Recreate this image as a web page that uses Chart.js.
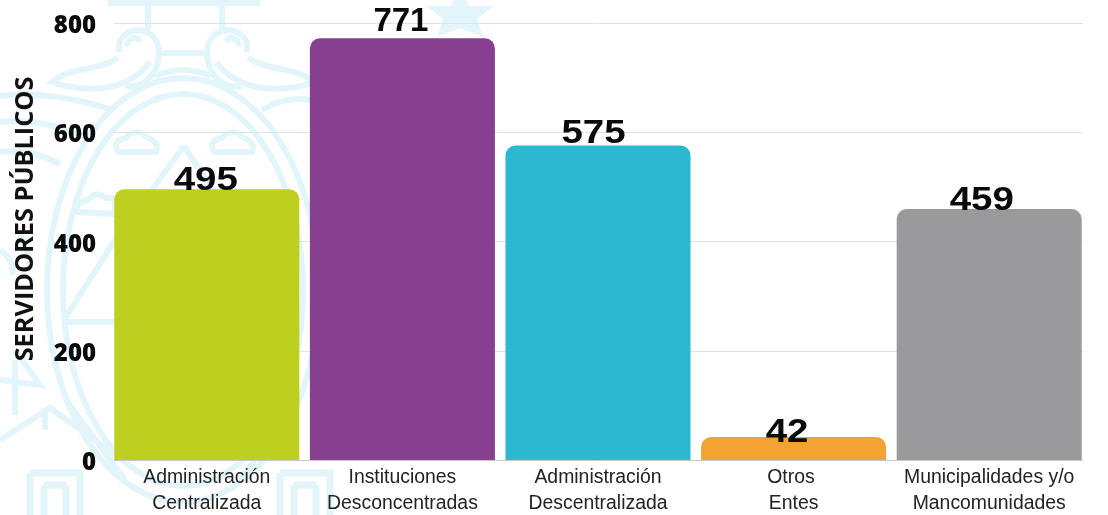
<!DOCTYPE html>
<html><head><meta charset="utf-8">
<style>
html,body{margin:0;padding:0;background:#fff;overflow:hidden}
#wrap{position:relative;width:1108px;height:515px}
#wm,#c{position:absolute;left:0;top:0}
</style>
<script src="https://cdn.jsdelivr.net/npm/chart.js@4"></script>
</head><body>
<div id="wrap">
<svg id="wm" width="1108" height="515" viewBox="0 0 1108 515" fill="none" stroke="#e2f5fa" stroke-width="6">
  <path d="M108 3H260" />
  <path d="M148 4V30M222 4V30" />
  <path d="M120 52C112 30 150 20 158 45C162 65 150 90 125 86M128 46A6 6 0 1 1 140 42"/>
  <path d="M246 52C254 30 216 20 208 45C204 65 216 90 241 86M238 46A6 6 0 1 0 226 42"/>
  <path d="M118 58C95 72 72 66 52 82C80 92 125 95 150 62M248 58C271 72 294 66 314 82C286 92 241 95 216 62"/>
  <path d="M162 53H204M155 76Q183 64 211 76"/>
  <path d="M0 96Q50 90 112 110M0 122Q45 118 85 138M0 152Q30 148 60 164M310 100Q285 96 262 110"/>
  <ellipse cx="183" cy="290" rx="136" ry="212"/>
  <ellipse cx="183" cy="290" rx="120" ry="196"/>
  <path d="M184 146L115 240L64 320M184 146L235 225M64 322H115"/>
  <path d="M118 152Q112 140 126 138Q136 126 148 138Q160 142 156 152Z"/>
  <path d="M214 152Q208 140 222 138Q232 126 244 138Q256 142 252 152Z"/>
  <path d="M78 212Q74 202 88 200Q96 190 106 198H115V214Z"/>
  <path d="M0 440L50 408L125 462M45 408V430M15 360V415M0 380L40 385L15 350"/>
  <path d="M20 235Q30 250 30 270M0 250Q15 260 12 275"/>
  <path d="M66 400L125 480M300 400L240 480"/>
  <path d="M30 473H80V515M30 473V515M44 485H66M44 485V515M66 485V515" stroke-width="7"/>
  <path d="M280 473H330V515M280 473V515M294 485H316M294 485V515M316 485V515" stroke-width="7"/>
  <path d="M460 -8L470 6H493L477 19L483 37L460 28L437 37L443 19L427 6H450Z" fill="#e2f5fa" stroke="none"/>
</svg>
<canvas id="c" width="1108" height="515"></canvas>
</div>
<script>
const categories = [["Administración","Centralizada"],["Instituciones","Desconcentradas"],["Administración","Descentralizada"],["Otros ","Entes"],["Municipalidades y/o","Mancomunidades"]];
const values = [495,771,575,42,459];
const barColors = ["#bdd020","#86408f","#2cb8d1","#f4a233","#9a9a9c"];
const yTicks = [0,200,400,600,800];
const yTitle = "SERVIDORES PÚBLICOS";
const labelShiftX = [-1,-1.5,-4.5,-6.5,-7.5];
const labelShiftY = [1,-7.5,-3,5,1];
const labelStretch = [1.13,0.97,1.13,1.13,1.13];

const gridPlugin = {
  id:'shortGrid',
  beforeDatasetsDraw(chart){
    const {ctx,scales:{y}} = chart;
    ctx.save();
    yTicks.forEach(t=>{
      const py = Math.round(y.getPixelForValue(t))+0.5;
      ctx.strokeStyle = t===0 ? '#c8c8c8' : '#e2e2e2';
      ctx.lineWidth = 1;
      ctx.beginPath();ctx.moveTo(114,py);ctx.lineTo(1083,py);ctx.stroke();
    });
    ctx.restore();
  }
};
const labelPlugin = {
  id:'valueLabels',
  afterDatasetsDraw(chart){
    const {ctx} = chart;
    const meta = chart.getDatasetMeta(0);
    meta.data.forEach((el,i)=>{
      ctx.save();
      ctx.translate(el.x+labelShiftX[i], el.y+labelShiftY[i]);
      ctx.scale(labelStretch[i],1);
      ctx.font = 'bold 34px "Liberation Sans"';
      ctx.fillStyle = '#0a0a0a';
      ctx.textAlign = 'center';
      ctx.textBaseline = 'alphabetic';
      ctx.fillText(String(values[i]), 0, 0);
      ctx.restore();
    });
    ctx.save();
    ctx.translate(26,219);
    ctx.rotate(-Math.PI/2);
    ctx.font = 'bold 25.3px "Open Sans"';
    ctx.fillStyle = '#111';
    ctx.textAlign = 'center';
    ctx.textBaseline = 'middle';
    ctx.fillText(yTitle,0,0);
    ctx.restore();
  }
};

new Chart(document.getElementById('c'),{
  type:'bar',
  data:{labels:categories,datasets:[{data:values,backgroundColor:barColors,
    borderRadius:{topLeft:10,topRight:10,bottomLeft:0,bottomRight:0},borderSkipped:'bottom',
    categoryPercentage:1,barPercentage:0.946}]},
  plugins:[gridPlugin,labelPlugin],
  options:{
    responsive:false,animation:false,
    layout:{padding:{left:10,top:22.5,right:21,bottom:0}},
    plugins:{legend:{display:false},tooltip:{enabled:false}},
    scales:{
      x:{grid:{display:false,drawTicks:false},border:{display:false},
        afterFit(s){s.height=55;},
        ticks:{maxRotation:0,autoSkip:false,padding:5,color:'#222',
          font:{family:'"Liberation Sans"',size:19.4,lineHeight:1.34}}},
      y:{min:0,max:800,afterFit(s){s.width=99;s.paddingTop=0;s.paddingBottom=0;},
        grid:{display:false,drawTicks:false},border:{display:false},
        afterBuildTicks(s){s.ticks=yTicks.map(v=>({value:v}));},
        ticks:{padding:13,color:'#0a0a0a',callback:v=>['',String(v)],
          font:{family:'"Open Sans"',size:24,weight:800,lineHeight:0.29}}}
    }
  }
});
</script>
</body></html>
